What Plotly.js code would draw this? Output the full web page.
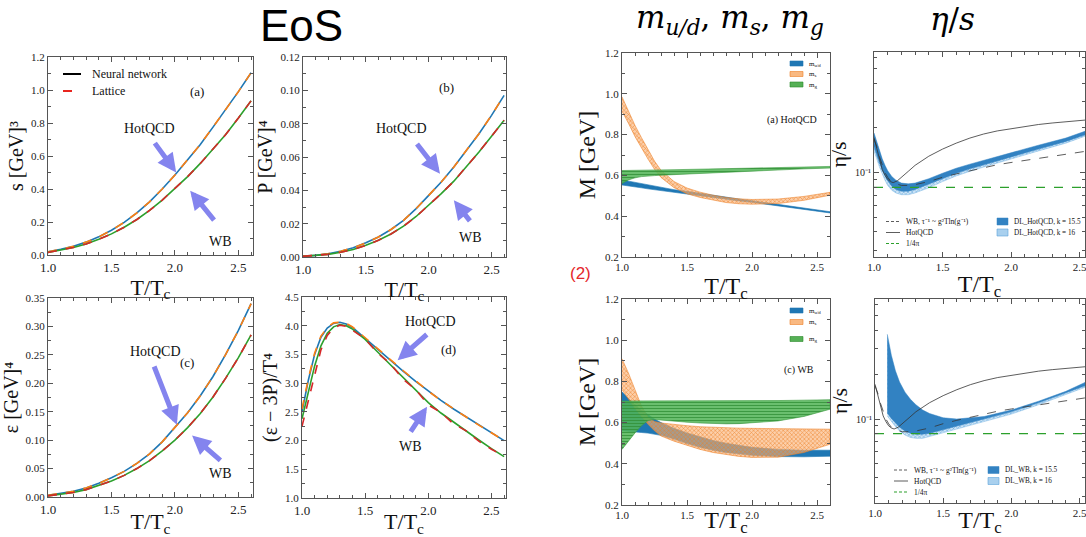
<!DOCTYPE html>
<html><head><meta charset="utf-8">
<script src="https://cdn.plot.ly/plotly-3.0.1.min.js"></script>
<style>html,body{margin:0;padding:0;background:#fff}#chart{width:1086px;height:537px}</style>
</head><body><div id="chart"></div>
<script>
// ---------------- DATA ----------------
// EoS panels (T/Tc grid)
const T_eos = [1.0,1.1,1.2,1.3,1.4,1.5,1.6,1.7,1.8,1.9,2.0,2.1,2.2,2.3,2.4,2.5,2.6];
const s_hot = [0.020,0.034,0.053,0.078,0.110,0.150,0.198,0.255,0.322,0.400,0.485,0.575,0.670,0.775,0.880,0.990,1.105];
const s_wb  = [0.015,0.028,0.045,0.067,0.095,0.128,0.168,0.215,0.270,0.333,0.405,0.475,0.555,0.640,0.730,0.830,0.935];
const P_hot = [0.0005,0.0010,0.0020,0.0035,0.0055,0.0085,0.0120,0.0165,0.0220,0.0290,0.0370,0.0450,0.0540,0.0640,0.0740,0.0850,0.0970];
const P_wb  = [0.0004,0.0008,0.0016,0.0028,0.0045,0.0070,0.0100,0.0138,0.0185,0.0243,0.0310,0.0380,0.0455,0.0540,0.0630,0.0725,0.0820];
const e_hot = [0.003,0.006,0.010,0.016,0.024,0.034,0.045,0.059,0.076,0.097,0.122,0.148,0.178,0.212,0.251,0.293,0.340];
const e_wb  = [0.002,0.005,0.008,0.013,0.020,0.028,0.038,0.050,0.064,0.081,0.100,0.122,0.147,0.176,0.209,0.245,0.285];
// trace anomaly
const T_int = [1.0,1.05,1.1,1.15,1.2,1.25,1.3,1.35,1.4,1.5,1.6,1.7,1.8,1.9,2.0,2.1,2.2,2.3,2.4,2.5,2.6];
const I_hot_nn  = [2.50,3.05,3.50,3.80,3.96,4.04,4.06,4.03,3.97,3.78,3.58,3.40,3.21,3.03,2.86,2.70,2.55,2.41,2.27,2.13,2.00];
const I_hot_lat = [2.55,3.08,3.52,3.82,3.97,4.05,4.06,4.04,3.98,3.79,3.59,3.40,3.22,3.04,2.86,2.70,2.55,2.41,2.27,2.13,2.00];
const I_wb_nn   = [2.38,2.85,3.30,3.65,3.87,3.98,4.02,4.00,3.94,3.76,3.54,3.32,3.10,2.88,2.66,2.48,2.32,2.16,2.01,1.86,1.72];
const I_wb_lat  = [2.25,2.70,3.18,3.58,3.83,3.96,4.01,3.99,3.92,3.77,3.52,3.34,3.07,2.89,2.62,2.49,2.29,2.17,1.99,1.85,1.73];

// Quasi-particle masses
const T_M = [1.0,1.05,1.1,1.15,1.2,1.25,1.3,1.4,1.5,1.6,1.7,1.8,1.9,2.0,2.2,2.4,2.6];
const mud_hot_up = [0.578,0.572,0.565,0.558,0.552,0.546,0.540,0.530,0.522,0.512,0.502,0.493,0.484,0.476,0.458,0.440,0.422];
const mud_hot_lo = [0.553,0.549,0.544,0.539,0.534,0.530,0.526,0.518,0.510,0.501,0.492,0.483,0.475,0.468,0.451,0.434,0.416];
const ms_hot_up  = [0.985,0.915,0.845,0.785,0.725,0.670,0.625,0.570,0.538,0.518,0.503,0.492,0.485,0.482,0.484,0.497,0.517];
const ms_hot_lo  = [0.915,0.855,0.790,0.735,0.680,0.630,0.590,0.540,0.510,0.492,0.478,0.467,0.461,0.459,0.462,0.478,0.503];
const mg_hot_up  = [0.624,0.625,0.625,0.626,0.626,0.627,0.627,0.628,0.629,0.630,0.631,0.632,0.634,0.635,0.638,0.641,0.644];
const mg_hot_lo  = [0.560,0.578,0.588,0.594,0.597,0.599,0.601,0.604,0.607,0.610,0.613,0.616,0.619,0.622,0.627,0.632,0.636];
const mud_wb_up = [0.750,0.715,0.685,0.660,0.637,0.617,0.600,0.572,0.550,0.530,0.513,0.500,0.489,0.480,0.470,0.466,0.466];
const mud_wb_lo = [0.560,0.558,0.555,0.552,0.549,0.545,0.538,0.520,0.498,0.480,0.466,0.455,0.447,0.441,0.435,0.434,0.437];
const ms_wb_up  = [0.910,0.840,0.760,0.680,0.625,0.605,0.598,0.590,0.585,0.580,0.577,0.575,0.573,0.572,0.570,0.568,0.568];
const ms_wb_lo  = [0.760,0.715,0.670,0.630,0.592,0.560,0.535,0.510,0.490,0.470,0.455,0.445,0.436,0.431,0.432,0.455,0.495];
const mg_wb_up  = [0.705,0.705,0.705,0.705,0.705,0.705,0.705,0.705,0.705,0.705,0.705,0.705,0.706,0.706,0.707,0.709,0.711];
const mg_wb_lo  = [0.470,0.510,0.550,0.585,0.610,0.615,0.614,0.608,0.602,0.598,0.595,0.594,0.595,0.597,0.608,0.630,0.665];

// eta/s
const T_eta = [1.0,1.02,1.04,1.06,1.08,1.1,1.12,1.14,1.17,1.2,1.25,1.3,1.4,1.5,1.6,1.7,1.8,1.9,2.0,2.1,2.2,2.3,2.4,2.54];
const eta_hotqcd = [0.172,0.145,0.120,0.105,0.096,0.090,0.087,0.0856,0.088,0.0925,0.102,0.112,0.129,0.144,0.158,0.171,0.182,0.191,0.198,0.205,0.211,0.216,0.220,0.226];
const eta_wb     = [0.168,0.150,0.128,0.112,0.100,0.093,0.088,0.085,0.083,0.082,0.082,0.083,0.087,0.093,0.098,0.103,0.108,0.113,0.117,0.121,0.125,0.129,0.133,0.139];
const T_kss = [1.0,2.6];
const eta_kss = [0.0796,0.0796];
const T_dl_hq = [1.0,1.02,1.04,1.06,1.08,1.1,1.13,1.16,1.2,1.25,1.3,1.4,1.5,1.6,1.7,1.8,2.0,2.2,2.4,2.54];
const dl_hq155_up = [0.185,0.160,0.140,0.124,0.112,0.103,0.094,0.089,0.085,0.084,0.085,0.091,0.099,0.107,0.114,0.121,0.137,0.153,0.171,0.190];
const dl_hq155_lo = [0.150,0.132,0.116,0.104,0.095,0.088,0.081,0.077,0.075,0.075,0.077,0.083,0.091,0.099,0.106,0.113,0.128,0.144,0.162,0.180];
const dl_hq16_up  = [0.180,0.156,0.136,0.120,0.108,0.099,0.090,0.085,0.081,0.080,0.081,0.087,0.095,0.103,0.110,0.117,0.133,0.149,0.167,0.185];
const dl_hq16_lo  = [0.140,0.124,0.109,0.098,0.089,0.082,0.076,0.073,0.071,0.071,0.073,0.079,0.087,0.095,0.102,0.109,0.124,0.140,0.158,0.176];
const T_dl_wb = [1.09,1.1,1.12,1.15,1.18,1.22,1.26,1.3,1.35,1.4,1.5,1.6,1.8,2.0,2.2,2.4,2.54];
const dl_wb155_up = [0.375,0.330,0.270,0.212,0.178,0.152,0.136,0.125,0.115,0.109,0.102,0.100,0.104,0.115,0.132,0.154,0.177];
const dl_wb155_lo = [0.110,0.107,0.101,0.094,0.088,0.083,0.080,0.079,0.079,0.080,0.085,0.090,0.100,0.112,0.129,0.150,0.168];
const dl_wb16_up  = [0.340,0.300,0.250,0.200,0.168,0.144,0.129,0.119,0.110,0.104,0.097,0.096,0.100,0.111,0.128,0.150,0.173];
const dl_wb16_lo  = [0.105,0.102,0.096,0.089,0.083,0.078,0.075,0.074,0.074,0.076,0.081,0.086,0.096,0.108,0.125,0.146,0.164];

const etaMajorTicks = [0.1];
const etaMajorText = ['10⁻¹'];
const etaMinorTicks = [0.03,0.04,0.05,0.06,0.07,0.08,0.09,0.2,0.3,0.4,0.5,0.6];

// ---------------- HELPERS ----------------
const W = 1086, H = 537;
const SERIF = 'Liberation Serif';
const SANS = 'Liberation Sans';
const MATH = 'DejaVu Serif';
const dx = (l, r) => [l / W, r / W];
const dy = (t, b) => [1 - b / H, 1 - t / H];
const PX = p => p / W, PY = p => 1 - p / H;

const C = {hot:'#1f77b4', hotLat:'#ff7f0e', wb:'#2ca02c', wbLat:'#d62728'};

function line(xa, ya, x, y, color, dash, width) {
  return {type:'scatter', mode:'lines', x:x, y:y, xaxis:xa, yaxis:ya,
    line:{color:color, width:width||1.6, dash:dash||'solid'}, hoverinfo:'skip'};
}
function band(xa, ya, x, up, lo, style) {
  const xs = x.concat(x.slice().reverse());
  const ys = up.concat(lo.slice().reverse());
  const t = {type:'scatter', mode:'lines', x:xs, y:ys, xaxis:xa, yaxis:ya, fill:'toself',
    line:{color:style.line, width:style.lw === undefined ? 0.6 : style.lw}, hoverinfo:'skip'};
  if (style.pattern) t.fillpattern = style.pattern;
  if (style.fill) t.fillcolor = style.fill;
  return t;
}
const ST = {
  blue: {fill:'#1f77b4', line:'#1f77b4'},
  orange: {fill:'rgba(250,170,110,0.6)', line:'rgba(238,130,40,0.95)', pattern:{shape:'x', fgcolor:'rgba(236,125,35,0.95)', bgcolor:'rgba(250,178,118,0.62)', size:3, solidity:0.3}},
  green: {fill:'rgba(76,175,80,0.88)', line:'#3d9a40', pattern:{shape:'-', fgcolor:'rgba(50,145,55,0.9)', bgcolor:'rgba(80,180,85,0.85)', size:3, solidity:0.3}},
  dl155: {fill:'#3282c2', line:'#3282c2', lw:0.5},
  dl16: {fill:'#a9d0ee', line:'#7ab6e4', lw:0.5, pattern:{shape:'x', fgcolor:'#5aa2da', bgcolor:'#cfe5f6', size:3, solidity:0.3}}
};

// ---------------- TRACES ----------------
const traces = [
  // (a) entropy
  line('x','y',T_eos,s_hot,C.hot), line('x','y',T_eos,s_hot,C.hotLat,'dash'),
  line('x','y',T_eos,s_wb,C.wb), line('x','y',T_eos,s_wb,C.wbLat,'dash'),
  // (b) pressure
  line('x2','y2',T_eos,P_hot,C.hot), line('x2','y2',T_eos,P_hot,C.hotLat,'dash'),
  line('x2','y2',T_eos,P_wb,C.wb), line('x2','y2',T_eos,P_wb,C.wbLat,'dash'),
  // (c) energy density
  line('x3','y3',T_eos,e_hot,C.hot), line('x3','y3',T_eos,e_hot,C.hotLat,'dash'),
  line('x3','y3',T_eos,e_wb,C.wb), line('x3','y3',T_eos,e_wb,C.wbLat,'dash'),
  // (d) trace anomaly
  line('x4','y4',T_int,I_hot_nn,C.hot), line('x4','y4',T_int,I_hot_lat,C.hotLat,'dash'),
  line('x4','y4',T_int,I_wb_nn,C.wb), line('x4','y4',T_int,I_wb_lat,C.wbLat,'dash'),
  // masses HotQCD
  band('x5','y5',T_M,mud_hot_up,mud_hot_lo,ST.blue),
  band('x5','y5',T_M,ms_hot_up,ms_hot_lo,ST.orange),
  band('x5','y5',T_M,mg_hot_up,mg_hot_lo,ST.green),
  // eta/s HotQCD
  band('x6','y6',T_dl_hq,dl_hq16_up,dl_hq16_lo,ST.dl16),
  band('x6','y6',T_dl_hq,dl_hq155_up,dl_hq155_lo,ST.dl155),
  line('x6','y6',T_eta,eta_wb,'#333','dash',0.8),
  line('x6','y6',T_eta,eta_hotqcd,'#333','solid',0.8),
  line('x6','y6',T_kss,eta_kss,'#2ca02c','dash',1.2),
  // masses WB
  band('x7','y7',T_M,mud_wb_up,mud_wb_lo,ST.blue),
  band('x7','y7',T_M,ms_wb_up,ms_wb_lo,ST.orange),
  band('x7','y7',T_M,mg_wb_up,mg_wb_lo,ST.green),
  // eta/s WB
  band('x8','y8',T_dl_wb,dl_wb16_up,dl_wb16_lo,ST.dl16),
  band('x8','y8',T_dl_wb,dl_wb155_up,dl_wb155_lo,ST.dl155),
  line('x8','y8',T_eta,eta_wb,'#333','dash',0.8),
  line('x8','y8',T_eta,eta_hotqcd,'#333','solid',0.8),
  line('x8','y8',T_kss,eta_kss,'#2ca02c','dash',1.2)
];

// ---------------- AXES ----------------
function ax(extra, minorD) {
  const a = {showline:true, mirror:'allticks', linecolor:'#555', linewidth:1, ticks:'inside', ticklen:5,
    tickwidth:1, tickcolor:'#555', showgrid:false, zeroline:false,
    tickfont:{family:SERIF, size:11, color:'#222'}};
  if (minorD !== undefined) a.minor = {ticks:'inside', ticklen:3, tickcolor:'#555', dtick:minorD, showgrid:false};
  return Object.assign(a, extra);
}
const ttl = (t, s) => ({text:t, font:{family:SERIF, size:s, color:'#111'}, standoff:2});
const xEoS = (dom, anchor) => ax({domain:dom, anchor:anchor, range:[1,2.615], tick0:1, dtick:0.5, tickformat:'.1f',
  tickfont:{family:SERIF,size:13,color:'#222'}, title:ttl('T/T<sub>c</sub>',22)}, 0.1);
const xM = (dom, anchor, rng) => ax({domain:dom, anchor:anchor, range:rng, tick0:1, dtick:0.5, tickformat:'.1f',
  ticklabeloverflow:'allow', tickfont:{family:SERIF,size:11,color:'#222'}, title:ttl('T/T<sub>c</sub>',24)}, 0.1);
const yEta = (dom, anchor) => ax({domain:dom, anchor:anchor, type:'log', range:[Math.log10(0.027), Math.log10(0.65)],
  tickmode:'array', tickvals:etaMajorTicks, ticktext:etaMajorText, tickfont:{family:SERIF,size:10,color:'#222'},
  minor:{ticks:'inside', ticklen:3, tickcolor:'#555', tickmode:'array', tickvals:etaMinorTicks, showgrid:false},
  title:ttl('η/s',22)});

const layout = {
  width:W, height:H, margin:{l:0,r:0,t:0,b:0}, paper_bgcolor:'#fff', plot_bgcolor:'#fff',
  font:{family:SERIF, size:11, color:'#222'},
  showlegend:false, hovermode:false,
  xaxis: xEoS(dx(48,253),'y'),
  yaxis: ax({domain:dy(57,255), anchor:'x', range:[0,1.2], dtick:0.2, tickformat:'.1f', title:ttl('s [GeV]³',20)}, 0.1),
  xaxis2: xEoS(dx(303,506),'y2'),
  yaxis2: ax({domain:dy(57,257), anchor:'x2', range:[0,0.12], dtick:0.02, tickformat:'.2f', title:ttl('P [GeV]⁴',20)}, 0.01),
  xaxis3: xEoS(dx(48,253),'y3'),
  yaxis3: ax({domain:dy(298,497), anchor:'x3', range:[0,0.35], dtick:0.05, tickformat:'.2f', title:ttl('ε [GeV]⁴',20)}, 0.025),
  xaxis4: xEoS(dx(302,506),'y4'),
  yaxis4: ax({domain:dy(297,498), anchor:'x4', range:[1,4.5], dtick:0.5, tickformat:'.1f', title:ttl('(ε − 3P)/T⁴',20)}, 0.25),
  xaxis5: xM(dx(622,830),'y5',[1,2.6]),
  yaxis5: ax({domain:dy(53,257), anchor:'x5', range:[0.2,1.2], dtick:0.2, tickformat:'.1f', title:ttl('M [GeV]',24)}, 0.1),
  xaxis6: xM(dx(874,1085),'y6',[1,2.54]),
  yaxis6: yEta(dy(52,257),'x6'),
  xaxis7: xM(dx(622,830),'y7',[1,2.6]),
  yaxis7: ax({domain:dy(299,505), anchor:'x7', range:[0.2,1.2], dtick:0.2, tickformat:'.1f', title:ttl('M [GeV]',24)}, 0.1),
  xaxis8: xM(dx(875,1085),'y8',[1,2.54]),
  yaxis8: yEta(dy(299,503),'x8'),
  annotations: [], shapes: []
};

const A = layout.annotations, S = layout.shapes;
function arrow(xr, yr, tip, tail) {
  A.push({xref:xr, yref:yr, axref:xr, ayref:yr, x:tip[0], y:tip[1], ax:tail[0], ay:tail[1], text:' ',
    showarrow:true, arrowhead:2, arrowsize:0.75, arrowwidth:5, arrowcolor:'#8484ee', font:{size:1}});
}
function txt(xr, yr, x, y, s, size, opts) {
  A.push(Object.assign({xref:xr, yref:yr, x:x, y:y, text:s, showarrow:false,
    font:{family:SERIF, size:size, color:'#111'}, xanchor:'center', yanchor:'middle'}, opts||{}));
}
// Headline titles
txt('paper','paper',PX(301),PY(25),'EoS',44,{font:{family:SANS,size:44,color:'#000'}});
txt('paper','paper',PX(730),PY(19),'<i>m</i><sub><i>u/d</i></sub>, <i>m</i><sub><i>s</i></sub>, <i>m</i><sub><i>g</i></sub>',31,{font:{family:MATH,size:31,color:'#000'}});
txt('paper','paper',PX(952),PY(19),'<i>η</i>/<i>s</i>',31,{font:{family:MATH,size:31,color:'#000'}});
txt('paper','paper',PX(580),PY(273),'(2)',17,{font:{family:SANS,size:17,color:'#e5262b'}});

// EoS annotations
txt('x','y',2.175,0.99,'(a)',13);
arrow('x','y',[2.01,0.50],[1.83,0.69]); txt('x','y',1.80,0.765,'HotQCD',14);
arrow('x','y',[2.12,0.39],[2.32,0.20]); txt('x','y',2.36,0.08,'WB',14);
txt('x2','y2',2.145,0.102,'(b)',13);
arrow('x2','y2',[2.09,0.050],[1.895,0.069]); txt('x2','y2',1.78,0.077,'HotQCD',14);
arrow('x2','y2',[2.20,0.034],[2.34,0.0205]); txt('x2','y2',2.33,0.012,'WB',14);
txt('x3','y3',2.095,0.237,'(c)',13);
arrow('x3','y3',[2.015,0.127],[1.83,0.233]); txt('x3','y3',1.845,0.256,'HotQCD',14);
arrow('x3','y3',[2.135,0.108],[2.37,0.062]); txt('x3','y3',2.36,0.041,'WB',14);
txt('x4','y4',2.16,3.58,'(d)',13);
arrow('x4','y4',[1.757,3.40],[2.0,3.87]); txt('x4','y4',2.02,4.07,'HotQCD',14);
arrow('x4','y4',[1.99,2.59],[1.85,2.12]); txt('x4','y4',1.86,1.89,'WB',14);

// EoS legend (panel a)
S.push({type:'line',xref:'paper',yref:'paper',x0:PX(63),x1:PX(81),y0:PY(74),y1:PY(74),line:{color:'#000',width:2}});
S.push({type:'line',xref:'paper',yref:'paper',x0:PX(63),x1:PX(81),y0:PY(91),y1:PY(91),line:{color:'#e8251f',width:2,dash:'dash'}});
txt('paper','paper',PX(90),PY(74),'Neural network',12,{xanchor:'left'});
txt('paper','paper',PX(90),PY(91),'Lattice',12,{xanchor:'left'});

// Mass panel labels and legends
txt('x5','y5',2.31,0.872,'(a) HotQCD',10);
txt('x7','y7',2.36,0.855,'(c) WB',10);
function massLegend(rows) {
  const fills = [['#1f77b4','#1f77b4'],['#f9b982','#ec7d23'],['#55b055','#2a8a2a']];
  const labs = ['m<sub>u/d</sub>','m<sub>s</sub>','m<sub>g</sub>'];
  rows.forEach((r,i) => {
    S.push({type:'rect',xref:'paper',yref:'paper',x0:PX(790),x1:PX(803),y0:PY(r+2.5),y1:PY(r-2.5),
      fillcolor:fills[i][0], line:{color:fills[i][1],width:0.6}});
    txt('paper','paper',PX(807),PY(r),labs[i],7,{xanchor:'left'});
  });
}
massLegend([63.5,74,84.5]);
massLegend([310.5,322,339]);

// eta/s labels and legends
txt('x6','y6',2.25,0.375,'(b) HotQCD',10);
txt('x8','y8',2.33,0.375,'(d) WB',10);
function etaLegend(rows, lx, bx, name) {
  const lines = [['#333','dash','WB, τ⁻¹ ~ g²Tln(g⁻¹)'],['#333','solid','HotQCD'],['#2ca02c','dash','1/4π']];
  lines.forEach((l,i) => {
    S.push({type:'line',xref:'paper',yref:'paper',x0:PX(lx),x1:PX(lx+14),y0:PY(rows[i]),y1:PY(rows[i]),
      line:{color:l[0],width:i===2?1.1:0.8,dash:l[1]==='dash'?'3px,2px':'solid'}});
    txt('paper','paper',PX(lx+18),PY(rows[i]),l[2],7.5,{xanchor:'left'});
  });
  S.push({type:'rect',xref:'paper',yref:'paper',x0:PX(bx),x1:PX(bx+11),y0:PY(rows[0]+3.5),y1:PY(rows[0]-3.5),
    fillcolor:'#3282c2',line:{color:'#3282c2',width:0.5}});
  S.push({type:'rect',xref:'paper',yref:'paper',x0:PX(bx),x1:PX(bx+11),y0:PY(rows[1]+3.5),y1:PY(rows[1]-3.5),
    fillcolor:'#a9d0ee',line:{color:'#5aa2da',width:0.6}});
  txt('paper','paper',PX(bx+15),PY(rows[0]),name+', k = 15.5',7.2,{xanchor:'left'});
  txt('paper','paper',PX(bx+15),PY(rows[1]),name+', k = 16',7.2,{xanchor:'left'});
}
etaLegend([221.5,232.5,243.5],886,997,'DL_HotQCD');
etaLegend([470,481,492],894,988,'DL_WB');

Plotly.newPlot('chart', traces, layout, {staticPlot:true, displayModeBar:false});
</script>
</body></html>
